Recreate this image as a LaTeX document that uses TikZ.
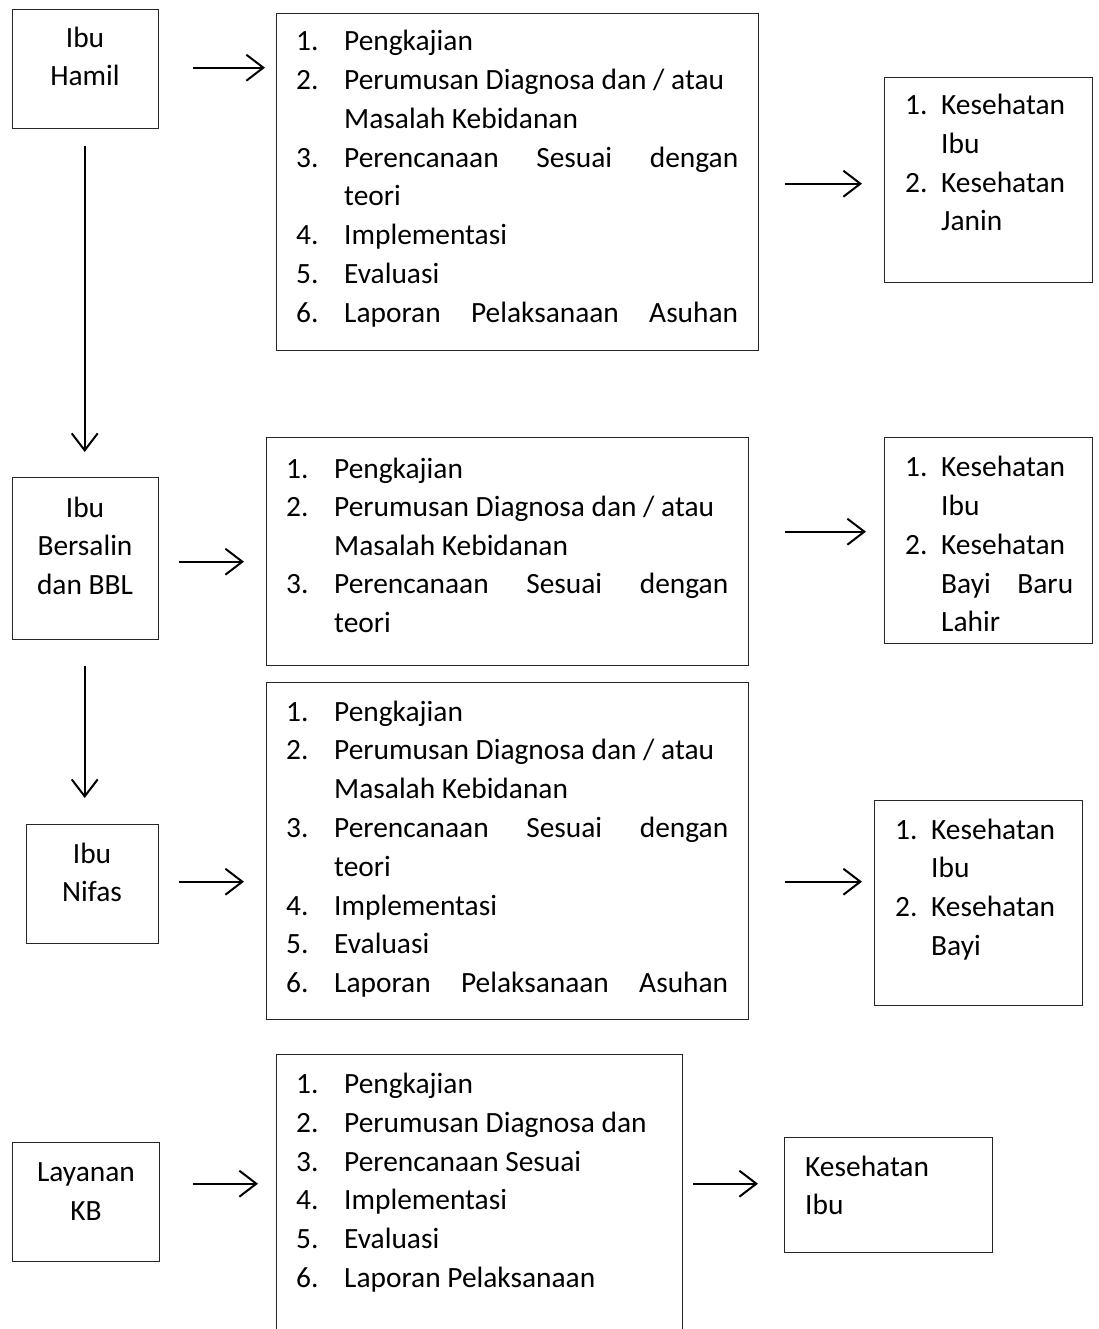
\documentclass[tikz,border=0pt]{standalone}
\usepackage{fontspec}
\setmainfont{Carlito}
\usetikzlibrary{arrows.meta}

% one row of a numbered list: name, x of number, x of text, baseline, number, text
\newcommand\listrow[6]{%
  \node[txt] (#1n) at (#2,#4) {#5};
  \node[txt] (#1t) at (#3,#4) {#6};}

\tikzset{
  box/.style={draw=black!85, line width=1.4pt, inner sep=0pt, anchor=north west},
  txt/.style={inner sep=0pt, anchor=base west},
  ctr/.style={inner sep=0pt, anchor=base},
  arr/.style={line width=2pt,
    -{Straight Barb[length=17pt,width=26pt,line width=2pt]}},
}

\begin{document}
\begin{tikzpicture}[x=1pt,y=-1pt,font=\fontsize{29.4pt}{38pt}\selectfont]
\useasboundingbox[fill=white] (0,0) rectangle (1099,1329);

% ---------- boxes ----------
\node[box, minimum width=146pt, minimum height=119pt] (hamil) at (12,9) {};
\node[box, minimum width=482pt, minimum height=337pt] (l1) at (276,13) {};
\node[box, minimum width=208pt, minimum height=205pt] (o1) at (884,77) {};

\node[box, minimum width=146pt, minimum height=162pt] (bersalin) at (12,477) {};
\node[box, minimum width=482pt, minimum height=228pt] (l2) at (266,437) {};
\node[box, minimum width=208pt, minimum height=206pt] (o2) at (884,437) {};

\node[box, minimum width=132pt, minimum height=119pt] (nifas) at (26,824) {};
\node[box, minimum width=482pt, minimum height=337pt] (l3) at (266,682) {};
\node[box, minimum width=208pt, minimum height=205pt] (o3) at (874,800) {};

\node[box, minimum width=147pt, minimum height=119pt] (kb) at (12,1142) {};
\node[box, minimum width=406pt, minimum height=290pt] (l4) at (276,1054) {};
\node[box, minimum width=208pt, minimum height=115pt] (o4) at (784,1137) {};

% ---------- texts: left column ----------
\node[ctr] (hamil1) at (85,48) {Ibu};
\node[ctr] (hamil2) at (85,86) {Hamil};
\node[ctr] (bers1) at (85,517) {Ibu};
\node[ctr] (bers2) at (85,555) {Bersalin};
\node[ctr] (bers3) at (85,594) {dan BBL};
\node[ctr] (nifas1) at (92,863) {Ibu};
\node[ctr] (nifas2) at (92,901) {Nifas};
\node[ctr] (kb1) at (86,1181) {Layanan};
\node[ctr] (kb2) at (86,1220) {KB};

% ---------- list 1 ----------
\listrow{la1}{296}{344}{51}{1.}{Pengkajian}
\listrow{la2}{296}{344}{89.75}{2.}{Perumusan Diagnosa dan / atau}
\node[txt] (la2b) at (344,128.5) {Masalah Kebidanan};
\listrow{la3}{296}{344}{167.25}{3.}{\makebox[394pt][s]{Perencanaan Sesuai dengan}}
\node[txt] (la3b) at (344,206) {teori};
\listrow{la4}{296}{344}{244.75}{4.}{Implementasi}
\listrow{la5}{296}{344}{283.5}{5.}{Evaluasi}
\listrow{la6}{296}{344}{322.25}{6.}{\makebox[394pt][s]{Laporan Pelaksanaan Asuhan}}

% ---------- outcome 1 ----------
\listrow{oa1}{905}{941}{115}{1.}{Kesehatan}
\node[txt] (oa1b) at (941,154) {Ibu};
\listrow{oa2}{905}{941}{193}{2.}{Kesehatan}
\node[txt] (oa2b) at (941,231) {Janin};

% ---------- list 2 ----------
\listrow{lb1}{286}{334}{478}{1.}{Pengkajian}
\listrow{lb2}{286}{334}{516.5}{2.}{Perumusan Diagnosa dan / atau}
\node[txt] (lb2b) at (334,555) {Masalah Kebidanan};
\listrow{lb3}{286}{334}{593.5}{3.}{\makebox[394pt][s]{Perencanaan Sesuai dengan}}
\node[txt] (lb3b) at (334,632) {teori};

% ---------- outcome 2 ----------
\listrow{ob1}{905}{941}{476}{1.}{Kesehatan}
\node[txt] (ob1b) at (941,515) {Ibu};
\listrow{ob2}{905}{941}{554}{2.}{Kesehatan}
\node[txt] (ob2b) at (941,593) {\makebox[132pt][s]{Bayi Baru}};
\node[txt] (ob2c) at (941,631) {Lahir};

% ---------- list 3 ----------
\listrow{lc1}{286}{334}{721}{1.}{Pengkajian}
\listrow{lc2}{286}{334}{759.5}{2.}{Perumusan Diagnosa dan / atau}
\node[txt] (lc2b) at (334,798) {Masalah Kebidanan};
\listrow{lc3}{286}{334}{837}{3.}{\makebox[394pt][s]{Perencanaan Sesuai dengan}}
\node[txt] (lc3b) at (334,876) {teori};
\listrow{lc4}{286}{334}{915}{4.}{Implementasi}
\listrow{lc5}{286}{334}{953}{5.}{Evaluasi}
\listrow{lc6}{286}{334}{992}{6.}{\makebox[394pt][s]{Laporan Pelaksanaan Asuhan}}

% ---------- outcome 3 ----------
\listrow{oc1}{895}{931}{839}{1.}{Kesehatan}
\node[txt] (oc1b) at (931,877) {Ibu};
\listrow{oc2}{895}{931}{916}{2.}{Kesehatan}
\node[txt] (oc2b) at (931,955) {Bayi};

% ---------- list 4 ----------
\listrow{ld1}{296}{344}{1093}{1.}{Pengkajian}
\listrow{ld2}{296}{344}{1132}{2.}{Perumusan Diagnosa dan}
\listrow{ld3}{296}{344}{1171}{3.}{Perencanaan Sesuai}
\listrow{ld4}{296}{344}{1209}{4.}{Implementasi}
\listrow{ld5}{296}{344}{1248}{5.}{Evaluasi}
\listrow{ld6}{296}{344}{1287}{6.}{Laporan Pelaksanaan}

% ---------- outcome 4 ----------
\node[txt] (od1) at (805,1176) {Kesehatan};
\node[txt] (od2) at (805,1214) {Ibu};

% ---------- connectors ----------
% row 1
\coordinate (a1) at ([yshift=1.5pt]hamil.east);
\draw[arr, shorten <=34pt, shorten >=11pt] (a1) -- (a1 -| l1.west);
\coordinate (a2) at ([yshift=-1.5pt]l1.east);
\draw[arr, shorten <=26pt, shorten >=22pt] (a2) -- (a2 -| o1.west);
\coordinate (v1) at ([xshift=-1pt]hamil.south);
\draw[arr, shorten <=17pt, shorten >=25pt] (v1) -- (v1 |- bersalin.north);
% row 2
\coordinate (b1) at ([yshift=-3pt]bersalin.east);
\draw[arr, shorten <=20pt, shorten >=22pt] (b1) -- (b1 -| l2.west);
\coordinate (b2) at ([yshift=20pt]l2.east);
\draw[arr, shorten <=36pt, shorten >=18pt] (b2) -- (b2 -| o2.west);
\coordinate (v2) at ([xshift=-1pt]bersalin.south);
\draw[arr, shorten <=26pt, shorten >=26pt] (v2) -- (v2 |- nifas.north);
% row 3
\coordinate (c1) at ([yshift=2.5pt]nifas.east);
\draw[arr, shorten <=20pt, shorten >=22pt] (c1) -- (c1 -| l3.west);
\coordinate (c2) at ([yshift=-30.5pt]l3.east);
\draw[arr, shorten <=36pt, shorten >=12pt] (c2) -- (c2 -| o3.west);
% row 4
\coordinate (d1) at ([yshift=18.5pt]kb.east);
\draw[arr, shorten <=33pt, shorten >=18pt] (d1) -- (d1 -| l4.west);
\coordinate (d2) at ([yshift=11.5pt]o4.west);
\draw[arr, shorten <=10pt, shorten >=26pt] (d2 -| l4.east) -- (d2);
\end{tikzpicture}
\end{document}
